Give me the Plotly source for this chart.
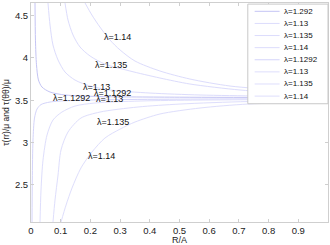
import plotly.graph_objects as go

# ---- data ----
upper_names = ["λ=1.292", "λ=1.13", "λ=1.135", "λ=1.14"]
lower_names = ["λ=1.1292", "λ=1.13", "λ=1.135", "λ=1.14"]

# upper family (τ approaching from above)
a_x = [0.0135, 0.015, 0.0185, 0.025, 0.037, 0.064, 0.115, 0.232, 0.50, 1.0]
a_y = [4.65, 4.21, 3.92, 3.74, 3.656, 3.597, 3.562, 3.544, 3.536, 3.532]
b_x = [0.0572, 0.064, 0.074, 0.091, 0.1145, 0.148, 0.199, 0.266, 0.401, 0.569, 0.771, 1.0]
b_y = [4.65, 4.39, 4.153, 3.976, 3.834, 3.739, 3.668, 3.621, 3.585, 3.562, 3.550, 3.544]
c_x = [0.1145, 0.1246, 0.1414, 0.165, 0.199, 0.249, 0.333, 0.434, 0.535, 0.704, 0.872, 1.0]
c_y = [4.65, 4.449, 4.272, 4.130, 4.023, 3.928, 3.846, 3.763, 3.692, 3.621, 3.585, 3.567]
d_x = [0.182, 0.205, 0.232, 0.266, 0.300, 0.350, 0.434, 0.535, 0.670, 0.838, 1.0]
d_y = [4.65, 4.508, 4.366, 4.212, 4.094, 3.964, 3.846, 3.751, 3.668, 3.621, 3.591]

# lower family (τ approaching from below)
e_x = [0.0034, 0.0044, 0.0067, 0.0118, 0.0202, 0.0337, 0.064, 0.131, 0.300, 0.569, 1.0]
e_y = [2.059, 2.556, 3.029, 3.289, 3.396, 3.449, 3.479, 3.496, 3.508, 3.514, 3.519]
f_x = [0.0303, 0.0337, 0.0404, 0.0539, 0.074, 0.104, 0.148, 0.215, 0.367, 0.569, 1.0]
f_y = [2.059, 2.437, 2.792, 3.088, 3.266, 3.360, 3.431, 3.467, 3.491, 3.502, 3.511]
g_x = [0.074, 0.0808, 0.091, 0.101, 0.1246, 0.168, 0.232, 0.360, 0.502, 0.731, 1.0]
g_y = [2.059, 2.319, 2.615, 2.911, 3.124, 3.289, 3.360, 3.420, 3.455, 3.485, 3.496]
h_x = [0.101, 0.118, 0.138, 0.168, 0.205, 0.249, 0.300, 0.350, 0.434, 0.569, 0.731, 1.0]
h_y = [2.059, 2.260, 2.461, 2.698, 2.887, 3.053, 3.159, 3.242, 3.337, 3.408, 3.455, 3.479]

# inline curve labels
label_text = ["λ=1.14", "λ=1.135", "λ=1.13", "λ=1.1292", "λ=1.1292", "λ=1.13", "λ=1.135", "λ=1.14"]
label_x = [0.291, 0.270, 0.222, 0.136, 0.273, 0.264, 0.276, 0.238]
label_y = [4.248, 3.922, 3.662, 3.530, 3.591, 3.520, 3.248, 2.846]

x_ticks = [0, 0.1, 0.2, 0.3, 0.4, 0.5, 0.6, 0.7, 0.8, 0.9]
x_tick_text = ["0", "0.1", "0.2", "0.3", "0.4", "0.5", "0.6", "0.7", "0.8", "0.9"]
y_ticks = [2.5, 3, 3.5, 4, 4.5]
y_tick_text = ["2.5", "3", "3.5", "4", "4.5"]

# ---- styles ----
colors = ["rgb(196,196,244)", "rgb(220,220,252)", "rgb(220,220,252)", "rgb(220,220,252)",
          "rgb(212,212,250)", "rgb(222,222,252)", "rgb(222,222,252)", "rgb(222,222,252)"]
FONT = "Liberation Sans, Arial, sans-serif"

fig = go.Figure()
series = [(a_x, a_y), (b_x, b_y), (c_x, c_y), (d_x, d_y),
          (e_x, e_y), (f_x, f_y), (g_x, g_y), (h_x, h_y)]
names = upper_names + lower_names
for (xs, ys), nm, col in zip(series, names, colors):
    fig.add_trace(go.Scatter(x=xs, y=ys, mode="lines", name=nm,
                             line=dict(color=col, width=1, shape="spline", smoothing=0.8),
                             showlegend=False, hoverinfo="skip"))

for t, lx, ly in zip(label_text, label_x, label_y):
    fig.add_annotation(x=lx, y=ly, text=t, showarrow=False,
                       font=dict(family=FONT, size=9, color="#111"))

# custom compact legend (paper coordinates)
shapes = [dict(type="rect", xref="paper", yref="paper", x0=0.73, x1=1.0, y0=0.54, y1=0.995,
               line=dict(color="#c8c8c8", width=1), fillcolor="white", layer="above")]
top = 0.962
step = 0.0553
for i, (nm, col) in enumerate(zip(names, colors)):
    yy = top - i * step
    shapes.append(dict(type="line", xref="paper", yref="paper", x0=0.753, x1=0.837,
                       y0=yy, y1=yy, line=dict(color=col, width=1), layer="above"))
    fig.add_annotation(xref="paper", yref="paper", x=0.845, y=yy, text=nm, showarrow=False,
                       xanchor="left", yanchor="middle",
                       font=dict(family=FONT, size=8, color="#111"))

# x-axis title as annotation (keeps the tight bottom margin)
fig.add_annotation(xref="paper", yref="paper", x=0.5, y=-0.082, text="R/A", showarrow=False,
                   xanchor="center", yanchor="middle",
                   font=dict(family=FONT, size=9, color="#222"))

axis_common = dict(showline=True, linecolor="#cfcfcf", linewidth=1, mirror="ticks",
                   ticks="inside", ticklen=3, tickcolor="#cfcfcf", showgrid=False,
                   zeroline=False, automargin=False,
                   tickfont=dict(family=FONT, size=9.5, color="#222"))

fig.update_layout(
    width=330, height=245,
    margin=dict(l=31, r=2, t=3, b=23),
    paper_bgcolor="white", plot_bgcolor="white",
    shapes=shapes,
    xaxis=dict(range=[0, 1], tickvals=x_ticks, ticktext=x_tick_text, **axis_common),
    yaxis=dict(range=[2.06, 4.65], tickvals=y_ticks, ticktext=y_tick_text,
               title=dict(text="τ(rr)/μ and τ(θθ)/μ", font=dict(family=FONT, size=8.5, color="#222"),
                          standoff=3),
               **axis_common),
    showlegend=False,
)

fig.write_html("out.html", config={"displayModeBar": False},
               post_script="document.body.style.margin='0';document.body.style.overflow='hidden';")
